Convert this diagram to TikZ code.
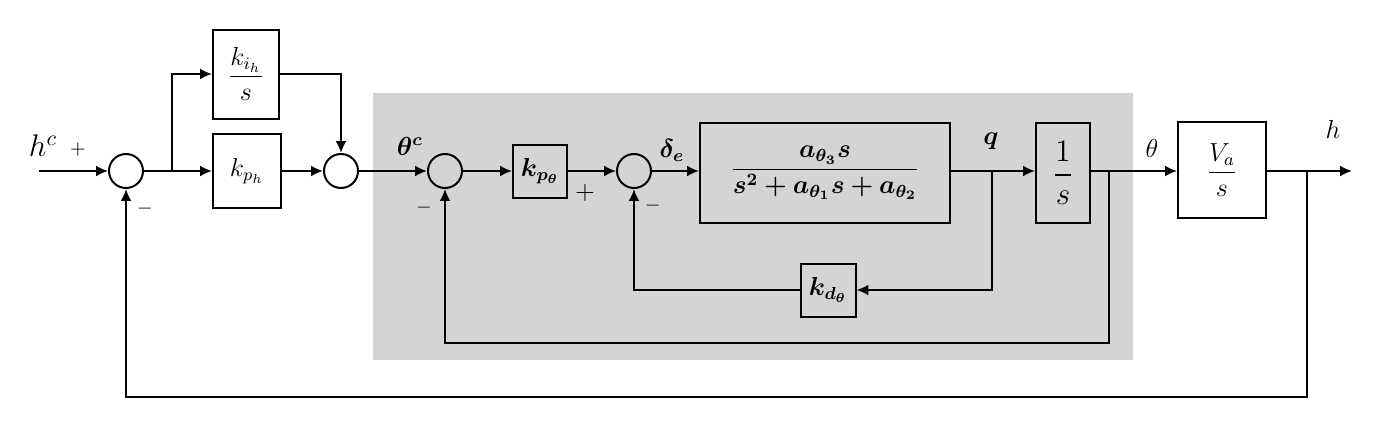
\documentclass[tikz,border=0pt]{standalone}
\usepackage{amsmath}
\usepackage{bm}
\usetikzlibrary{arrows.meta}
\definecolor{bggray}{RGB}{212,212,212}
\newcommand\upx{0.46pt}
\begin{document}
\begin{tikzpicture}[x=0.46pt,y=-0.46pt,
  line width=0.92pt,
  blk/.style={draw,line width=0.92pt,inner sep=0pt,font=\large},
  wblk/.style={blk,fill=white},
  sumc/.style={draw,circle,line width=0.92pt,minimum size=34*\upx,inner sep=0pt},
  lbl/.style={inner sep=0pt,font=\large},
  sgn/.style={inner sep=0pt,font=\small},
  arr/.style={-{Latex[length=5.5pt,width=5pt]}}]
\useasboundingbox (0,0) rectangle (1381,438);
\fill[bggray] (373,93) rectangle (1133,360);
% nodes
\coordinate (in) at (39,171);
\node[sumc,fill=white] (s1) at (126,171) {};
\coordinate (b1) at (172,171);
\node[wblk,minimum width=66*\upx,minimum height=89*\upx] (ki) at (246,74) {$\dfrac{k_{i_h}}{s}$};
\node[wblk,minimum width=68*\upx,minimum height=74*\upx] (kp) at (247,171) {$k_{p_h}$};
\node[sumc,fill=white] (s2) at (341,171) {};
\node[sumc] (s3) at (445,171) {};
\node[blk,minimum width=54*\upx,minimum height=53*\upx] (kpt) at (540,171) {$\bm{k_{p_\theta}}$};
\node[sumc] (s4) at (634,171) {};
\node[blk,minimum width=250*\upx,minimum height=100*\upx] (tf) at (825,173) {$\dfrac{\bm{a_{\theta_3}s}}{\bm{s^2+a_{\theta_1}s+a_{\theta_2}}}$};
\coordinate (qb) at (992,171);
\node[blk,font=\Large,minimum width=54*\upx,minimum height=100*\upx] (one) at (1063,173) {$\dfrac{1}{s}$};
\coordinate (tb) at (1109,171);
\node[wblk,minimum width=88*\upx,minimum height=96*\upx] (va) at (1222,170) {$\dfrac{V_a}{s}$};
\coordinate (hb) at (1307,171);
\coordinate (out) at (1352,171);
\node[blk,minimum width=55*\upx,minimum height=53*\upx] (kd) at (828,290) {$\bm{k_{d_\theta}}$};
\coordinate (tbd) at (1109,343);
\coordinate (hbd) at (1307,397);
% labels
\node[lbl,font=\Large] (hc) at (43,146) {$h^c$};
\node[sgn] (p1) at (78,150) {$+$};
\node[sgn] (m1) at (145,209) {$-$};
\node[lbl] (thc) at (410,146) {$\bm{\theta^c}$};
\node[sgn] (m3) at (424,208) {$-$};
\node[lbl] (p4) at (585,193) {$+$};
\node[sgn] (m4) at (653,206) {$-$};
\node[lbl] (de) at (672,150) {$\bm{\delta_e}$};
\node[lbl] (ql) at (991,141) {$\bm{q}$};
\node[lbl] (thl) at (1152,148) {$\theta$};
\node[lbl] (hl) at (1333,129) {$h$};
% connectors
\draw[arr] (in) -- (s1.west);
\draw (s1.east) -- (b1);
\draw[arr] (b1) -- (kp.west);
\draw[arr] (b1) |- (ki.west);
\draw[arr] (kp.east) -- (s2.west);
\draw[arr] (ki.east) -| (s2.north);
\draw[arr] (s2.east) -- (s3.west);
\draw[arr] (s3.east) -- (kpt.west);
\draw[arr] (kpt.east) -- (s4.west);
\draw[arr] (s4.east) -- (tf.west |- s4.east);
\draw[arr] (tf.east |- qb) -- (one.west |- qb);
\draw[arr] (one.east |- tb) -- (va.west |- tb);
\draw[arr] (va.east |- hb) -- (out);
\draw[arr] (qb) |- (kd.east);
\draw[arr] (kd.west) -| (s4.south);
\draw[arr] (tb) -- (tbd) -| (s3.south);
\draw[arr] (hb) -- (hbd) -| (s1.south);
\end{tikzpicture}
\end{document}
